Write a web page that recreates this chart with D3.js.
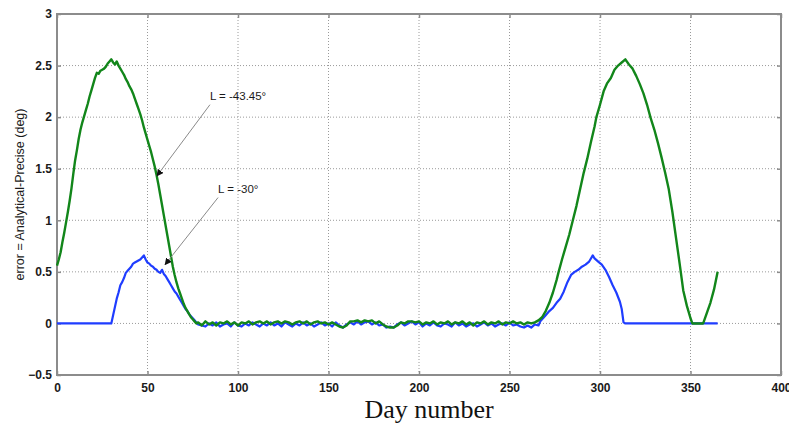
<!DOCTYPE html>
<html>
<head>
<meta charset="utf-8">
<script src="https://cdn.jsdelivr.net/npm/d3@7"></script>
<style>
  body { margin: 0; background: #fff; }
  svg text { font-family: Arial, "Liberation Sans", sans-serif; }
</style>
</head>
<body>
<div id="chart"></div>
<script>
// L = -43.45 deg curve (green)
const greenDays = [
  0, 1, 2, 3, 4, 5, 6, 7, 8, 9, 10, 11, 12, 13, 14, 15, 16, 17, 18, 19,
  20, 21, 22, 23, 24, 25, 26, 27, 28, 29, 30, 31, 32, 33, 34, 35, 36, 37, 38, 39,
  40, 41, 42, 43, 44, 45, 46, 47, 48, 49, 50, 51, 52, 53, 54, 55, 56, 57, 58, 59,
  60, 61, 62, 63, 64, 65, 66, 67, 68, 69, 70, 71, 72, 73, 74, 75, 76, 77,
  78, 80, 82, 84, 86, 88, 90, 92, 94, 96, 98, 100, 102, 104, 106, 108, 110, 112, 114, 116,
  118, 120, 122, 124, 126, 128, 130, 132, 134, 136, 138, 140, 142, 144, 146, 148, 150, 152, 154, 156,
  158, 160, 162, 164, 166, 168, 170, 172, 174, 176, 178, 180, 182, 184, 186, 188, 190, 192, 194, 196,
  198, 200, 202, 204, 206, 208, 210, 212, 214, 216, 218, 220, 222, 224, 226, 228, 230, 232, 234, 236,
  238, 240, 242, 244, 246, 248, 250, 252, 254, 256, 258, 260, 262, 264,
  266, 268, 270, 272, 274, 276, 277, 279, 281, 283, 285, 287, 289, 291, 293, 295, 297, 298, 300, 302,
  304, 306, 308, 310, 312, 314, 316, 318, 320, 322, 324, 326, 328, 330, 332, 334, 336, 338, 340, 342,
  344, 346, 348, 350, 351, 357, 359, 361, 363, 365
];
const greenErr = [
  0.56, 0.62, 0.69, 0.79, 0.88, 0.98, 1.08, 1.19, 1.31, 1.45, 1.58, 1.68, 1.79, 1.88, 1.95, 2.01, 2.07, 2.13, 2.20, 2.26,
  2.32, 2.38, 2.43, 2.42, 2.45, 2.46, 2.47, 2.49, 2.52, 2.54, 2.56, 2.53, 2.51, 2.54, 2.50, 2.47, 2.44, 2.41, 2.37, 2.34,
  2.30, 2.27, 2.23, 2.18, 2.13, 2.08, 2.03, 1.97, 1.90, 1.84, 1.78, 1.72, 1.66, 1.59, 1.52, 1.44, 1.35, 1.25, 1.15, 1.05,
  0.95, 0.85, 0.75, 0.65, 0.55, 0.47, 0.40, 0.34, 0.29, 0.24, 0.19, 0.15, 0.12, 0.09, 0.06, 0.04, 0.02, 0.00,
  0.01, -0.02, 0.02, -0.01, 0.01, -0.02, 0.01, 0.00, 0.02, -0.01, 0.01, -0.02, 0.01, 0.00, 0.02, -0.01, 0.01, 0.02, 0.00, 0.02,
  -0.01, 0.01, 0.02, 0.00, 0.02, 0.01, -0.01, 0.01, 0.02, 0.00, 0.02, -0.01, 0.01, 0.02, 0.00, 0.01, -0.01, 0.01, -0.01, -0.03,
  -0.04, -0.02, 0.02, 0.02, 0.03, 0.01, 0.03, 0.02, 0.03, 0.00, 0.02, -0.01, -0.03, -0.04, -0.04, -0.02, 0.01, 0.00, 0.02, 0.02,
  0.01, 0.02, -0.01, 0.01, 0.00, 0.02, -0.01, 0.01, 0.00, 0.02, -0.01, 0.01, 0.00, 0.02, -0.01, 0.01, -0.02, 0.01, 0.00, 0.02,
  -0.01, 0.01, 0.00, 0.02, -0.01, 0.01, 0.00, 0.02, 0.00, 0.01, -0.01, 0.01, 0.00, 0.01,
  0.03, 0.06, 0.12, 0.20, 0.30, 0.42, 0.49, 0.62, 0.74, 0.86, 1.00, 1.14, 1.30, 1.46, 1.60, 1.76, 1.91, 2.00, 2.12, 2.25,
  2.33, 2.38, 2.46, 2.50, 2.53, 2.56, 2.51, 2.47, 2.40, 2.32, 2.23, 2.12, 1.99, 1.88, 1.75, 1.61, 1.46, 1.30, 1.08, 0.83,
  0.58, 0.32, 0.17, 0.05, 0.00, 0.00, 0.10, 0.20, 0.33, 0.50
];

// L = -30 deg curve (blue)
const blueDays = [
  0, 30, 31, 32, 33, 34, 35, 36, 37, 38, 39, 40, 41, 42, 43, 44, 45, 46, 47, 48,
  49, 50, 51, 52, 53, 54, 55, 56, 57, 58, 59, 60, 61, 62, 63, 64, 65, 66, 67, 68,
  69, 70, 71, 72, 73, 74, 75, 76, 77, 78,
  80, 82, 84, 86, 88, 90, 92, 94, 96, 98, 100, 102, 104, 106, 108, 110, 112, 114, 116, 118,
  120, 122, 124, 126, 128, 130, 132, 134, 136, 138, 140, 142, 144, 146, 148, 150, 152, 154, 156, 158,
  160, 162, 164, 166, 168, 170, 172, 174, 176, 178, 180, 182, 184, 186, 188, 190, 192, 194, 196, 198,
  200, 202, 204, 206, 208, 210, 212, 214, 216, 218, 220, 222, 224, 226, 228, 230, 232, 234, 236, 238,
  240, 242, 244, 246, 248, 250, 252, 254, 256, 258, 260, 262, 264,
  266, 267, 268, 270, 272, 274, 276, 278, 280, 282, 284, 286, 288, 290, 292, 294, 295, 296, 297, 299,
  301, 303, 305, 307, 309, 311, 312, 313, 314, 365
];
const blueErr = [
  0.00, 0.00, 0.08, 0.16, 0.24, 0.30, 0.37, 0.40, 0.44, 0.49, 0.51, 0.53, 0.55, 0.58, 0.59, 0.60, 0.61, 0.62, 0.64, 0.66,
  0.62, 0.59, 0.58, 0.56, 0.55, 0.53, 0.52, 0.50, 0.49, 0.52, 0.48, 0.46, 0.43, 0.40, 0.37, 0.34, 0.31, 0.29, 0.26, 0.23,
  0.20, 0.17, 0.14, 0.12, 0.09, 0.07, 0.05, 0.03, 0.01, -0.01,
  -0.02, -0.03, 0.00, -0.02, 0.01, -0.03, -0.01, 0.00, -0.03, 0.01, -0.02, -0.03, 0.00, -0.02, 0.01, -0.01, -0.03, 0.00, -0.02, 0.01,
  -0.02, 0.00, -0.03, 0.01, -0.01, -0.03, 0.00, -0.02, 0.01, -0.02, 0.00, -0.03, -0.01, 0.01, -0.02, 0.00, -0.03, 0.01, -0.02, -0.04,
  -0.01, 0.01, -0.01, 0.02, -0.01, 0.01, 0.02, -0.01, 0.01, -0.02, -0.01, -0.04, -0.03, -0.04, -0.01, 0.01, -0.02, 0.00, 0.02, -0.01,
  0.01, -0.03, 0.00, -0.02, 0.01, -0.02, -0.03, 0.00, -0.01, -0.03, 0.01, -0.02, 0.00, -0.03, -0.01, 0.00, -0.03, -0.01, 0.01, -0.02,
  0.00, -0.03, -0.01, 0.00, -0.02, 0.01, -0.02, -0.01, -0.03, -0.04, -0.02, -0.04, -0.01,
  -0.02, 0.02, 0.04, 0.08, 0.12, 0.15, 0.20, 0.24, 0.31, 0.40, 0.47, 0.50, 0.52, 0.55, 0.57, 0.60, 0.63, 0.66, 0.63, 0.60,
  0.57, 0.52, 0.45, 0.37, 0.30, 0.21, 0.14, 0.01, 0.00, 0.00
];

const xTicks = [0, 50, 100, 150, 200, 250, 300, 350, 400];
const yTicks = [-0.5, 0, 0.5, 1, 1.5, 2, 2.5, 3];

// callouts: label, text anchor (day, err), arrow tip (day, err)
const notes = [
  { label: 'L = -43.45°', at: [84.5, 2.14], tip: [55.2, 1.43] },
  { label: 'L = -30°', at: [89, 1.24], tip: [59.7, 0.57] }
];

const width = 789, height = 427;
const margin = { top: 14, right: 8, bottom: 52, left: 57 };
const w = width - margin.left - margin.right;
const h = height - margin.top - margin.bottom;

const svg = d3.select('#chart').append('svg')
  .attr('width', width)
  .attr('height', height);

const x = d3.scaleLinear().domain([0, 400]).range([margin.left, margin.left + w]);
const y = d3.scaleLinear().domain([-0.5, 3]).range([margin.top + h, margin.top]);

const frameColor = '#8c8c8c';

// dotted grid
svg.append('g')
  .selectAll('line.vx')
  .data(xTicks.slice(1, -1))
  .enter().append('line')
  .attr('x1', d => x(d)).attr('x2', d => x(d))
  .attr('y1', margin.top).attr('y2', margin.top + h)
  .attr('stroke', '#9a9a9a').attr('stroke-width', 1)
  .attr('stroke-dasharray', '1,2');

svg.append('g')
  .selectAll('line.hy')
  .data(yTicks.slice(1, -1))
  .enter().append('line')
  .attr('x1', margin.left).attr('x2', margin.left + w)
  .attr('y1', d => y(d)).attr('y2', d => y(d))
  .attr('stroke', '#9a9a9a').attr('stroke-width', 1)
  .attr('stroke-dasharray', '1,2');

// axes with inward ticks
const xAxis = svg.append('g')
  .attr('transform', `translate(0,${margin.top + h})`)
  .call(d3.axisBottom(x).tickValues(xTicks).tickSizeInner(-4).tickSizeOuter(0).tickPadding(8));
const yAxis = svg.append('g')
  .attr('transform', `translate(${margin.left},0)`)
  .call(d3.axisLeft(y).tickValues(yTicks).tickSizeInner(-4).tickSizeOuter(0).tickPadding(5)
    .tickFormat(d3.format('~g')));
svg.append('g')
  .attr('transform', `translate(0,${margin.top})`)
  .call(d3.axisTop(x).tickValues(xTicks).tickSizeInner(-4).tickSizeOuter(0).tickFormat(''));
svg.append('g')
  .attr('transform', `translate(${margin.left + w},0)`)
  .call(d3.axisRight(y).tickValues(yTicks).tickSizeInner(-4).tickSizeOuter(0).tickFormat(''));

svg.selectAll('.domain').remove();
svg.selectAll('.tick line').attr('stroke', frameColor).attr('stroke-width', 1.5);
svg.selectAll('.tick text')
  .attr('fill', '#1a1a1a')
  .style('font-size', '12px')
  .style('font-weight', 'bold');

// frame
svg.append('rect')
  .attr('x', margin.left).attr('y', margin.top)
  .attr('width', w).attr('height', h)
  .attr('fill', 'none')
  .attr('stroke', frameColor)
  .attr('stroke-width', 2);

// curves
const line = d3.line()
  .x(d => x(d[0]))
  .y(d => y(d[1]));

const blueData = blueDays.map((d, i) => [d, blueErr[i]]);
const greenData = greenDays.map((d, i) => [d, greenErr[i]]);

svg.append('path')
  .datum(blueData)
  .attr('d', line)
  .attr('fill', 'none')
  .attr('stroke', '#1f3dff')
  .attr('stroke-width', 2.2)
  .attr('stroke-linejoin', 'round');

svg.append('path')
  .datum(greenData)
  .attr('d', line)
  .attr('fill', 'none')
  .attr('stroke', '#12861a')
  .attr('stroke-width', 2.4)
  .attr('stroke-linejoin', 'round');

// callout arrows
svg.append('defs').append('marker')
  .attr('id', 'head')
  .attr('viewBox', '0 0 10 10')
  .attr('refX', 9).attr('refY', 5)
  .attr('markerWidth', 7).attr('markerHeight', 7)
  .attr('markerUnits', 'userSpaceOnUse')
  .attr('orient', 'auto')
  .append('path')
  .attr('d', 'M0,0L10,5L0,10z')
  .attr('fill', '#111');

const note = svg.append('g')
  .selectAll('g')
  .data(notes)
  .enter().append('g');

note.append('line')
  .attr('x1', d => x(d.at[0]))
  .attr('y1', d => y(d.at[1]) + 2)
  .attr('x2', d => x(d.tip[0]))
  .attr('y2', d => y(d.tip[1]))
  .attr('stroke', '#8a8a8a')
  .attr('stroke-width', 1)
  .attr('marker-end', 'url(#head)');

note.append('text')
  .attr('x', d => x(d.at[0]))
  .attr('y', d => y(d.at[1]) - 3)
  .attr('fill', '#1a1a1a')
  .style('font-size', '11.5px')
  .text(d => d.label);

// axis titles
svg.append('text')
  .attr('transform', `translate(24,${margin.top + h / 2}) rotate(-90)`)
  .attr('text-anchor', 'middle')
  .attr('fill', '#1a1a1a')
  .style('font-size', '12.5px')
  .text('error = Analytical-Precise (deg)');

svg.append('text')
  .attr('x', 429)
  .attr('y', 418)
  .attr('text-anchor', 'middle')
  .attr('fill', '#111')
  .style('font-family', '"Liberation Serif", "Times New Roman", serif')
  .style('font-size', '26px')
  .text('Day number');
</script>
</body>
</html>
